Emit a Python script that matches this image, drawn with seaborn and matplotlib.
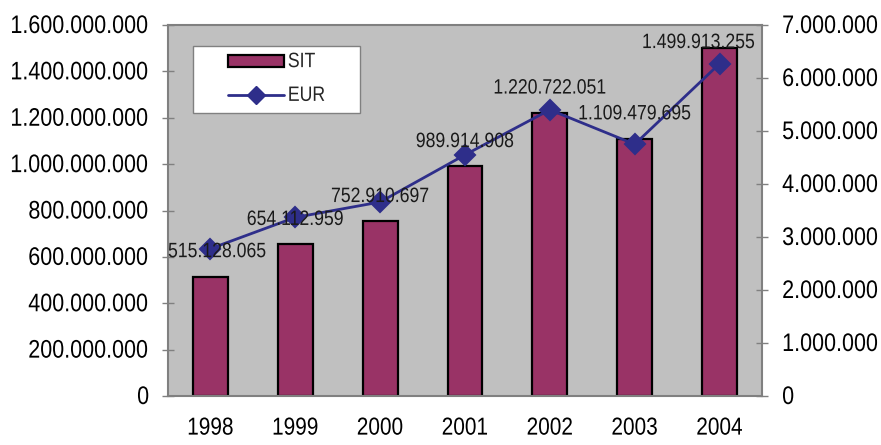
import matplotlib
matplotlib.use("Agg")
import matplotlib.pyplot as plt
import seaborn as sns
import numpy as np
import pandas as pd
from matplotlib.ticker import FuncFormatter, MultipleLocator
from matplotlib.patches import Patch, Rectangle
from matplotlib.lines import Line2D
from matplotlib.patheffects import AbstractPathEffect
from matplotlib.transforms import Affine2D

years = ["1998", "1999", "2000", "2001", "2002", "2003", "2004"]
sit = [515128065, 654112959, 752910697, 989914908, 1220722051, 1109479695, 1499913255]
eur = [2780000, 3370000, 3660000, 4550000, 5400000, 4750000, 6270000]
sit_labels = ["515.128.065", "654.112.959", "752.910.697", "989.914.908",
              "1.220.722.051", "1.109.479.695", "1.499.913.255"]

sns.set_style("white")
plt.rcParams["font.family"] = ["Liberation Sans", "DejaVu Sans"]


class Stretch(AbstractPathEffect):
    def __init__(self, sy):
        super().__init__()
        self.sy = sy

    def draw_path(self, renderer, gc, tpath, affine, rgbFace=None):
        renderer.draw_path(gc, tpath, Affine2D().scale(1, self.sy) + affine, rgbFace)


STR = [Stretch(1.18)]

df = pd.DataFrame({"year": years, "SIT": sit, "EUR": eur})

fig = plt.figure(figsize=(8.81, 4.45), dpi=100)
W, H = 594, 371
ax = fig.add_axes([168/881, 1-396/445, W/881, H/445])
ax.set_facecolor("#C0C0C0")

bar_col = "#993366"
line_col = "#2E2E8A"

sns.barplot(data=df, x="year", y="SIT", color=bar_col, width=0.41,
            edgecolor="black", linewidth=1.6, saturation=1, ax=ax, zorder=2)
ax.set_ylim(0, 1.6e9)
ax.set_xlim(-0.5, 6.5)


def dotfmt(v, p):
    return f"{int(round(v)):,}".replace(",", ".")


ax.yaxis.set_major_locator(MultipleLocator(2e8))
ax.yaxis.set_major_formatter(FuncFormatter(dotfmt))
ax.set_xlabel("")
ax.set_ylabel("")
ax.tick_params(axis="y", labelsize=15.5, direction="inout", length=9, width=1,
               color="#808080", pad=9, labelcolor="black")
ax.tick_params(axis="x", labelsize=15, length=0, pad=17, labelcolor="black")
ax.set_xticks(np.arange(-0.5, 7, 1), minor=True)
ax.tick_params(axis="x", which="minor", direction="inout", length=12, width=1, color="#808080")

for s in ax.spines.values():
    s.set_color("#808080")
    s.set_linewidth(1.5)

ax2 = ax.twinx()
sns.pointplot(data=df, x="year", y="EUR", color=line_col, markers="D",
              linestyles="-", ax=ax2, markersize=10, linewidth=2)
ax2.set_ylim(0, 7e6)
ax2.set_xlim(-0.5, 6.5)
ax2.yaxis.set_major_locator(MultipleLocator(1e6))
ax2.yaxis.set_major_formatter(FuncFormatter(dotfmt))
ax2.set_ylabel("")
ax2.tick_params(axis="y", labelsize=15.5, direction="inout", length=9, width=1,
                color="#808080", pad=10, labelcolor="black")
for s in ax2.spines.values():
    s.set_visible(False)

labels = []
for i, (v, lab) in enumerate(zip(sit, sit_labels)):
    yl = min(v + 1.03e8, 1.52e9)
    t = ax2.annotate(lab, (i, yl / 1.6e9 * 7e6), xytext=(0, 0), textcoords="offset pixels",
                     ha="center", va="center", fontsize=12.7, color="#1a1a1a",
                     zorder=5, path_effects=STR)
    labels.append(t)

# legend box
box = Rectangle(((193-168)/W, (396-113)/H), (360-193)/W, 67/H, transform=ax2.transAxes,
                facecolor="white", edgecolor="#808080", linewidth=1, zorder=9)
ax2.add_patch(box)
handles = [Patch(facecolor=bar_col, edgecolor="black", linewidth=1.6),
           Line2D([0], [0], color=line_col, marker="D", markersize=9, linewidth=2)]
leg = ax2.legend(handles, ["SIT", "EUR"], loc="center",
                 bbox_to_anchor=((193-168)/W, (396-113)/H, (360-193)/W, 67/H),
                 fontsize=12.7, frameon=False,
                 handlelength=3.2, borderpad=0.2, labelspacing=0.95, handletextpad=0.2)
leg.set_zorder(10)
for t in leg.get_texts():
    t.set_path_effects(STR)

fig.canvas.draw()
for a in (ax, ax2):
    for lbl in a.get_yticklabels() + a.get_xticklabels():
        lbl.set_path_effects(STR)

# keep data labels inside the plot area (as the original does)
r = fig.canvas.get_renderer()
axbb = ax.get_window_extent(r)
for t in labels:
    bb = t.get_window_extent(r)
    dx = 0
    if bb.x0 < axbb.x0:
        dx = axbb.x0 - bb.x0
    elif bb.x1 > axbb.x1 - 7:
        dx = (axbb.x1 - 7) - bb.x1
    t.xyann = (dx, 0)

fig.savefig("out.png", dpi=100, facecolor="white")
